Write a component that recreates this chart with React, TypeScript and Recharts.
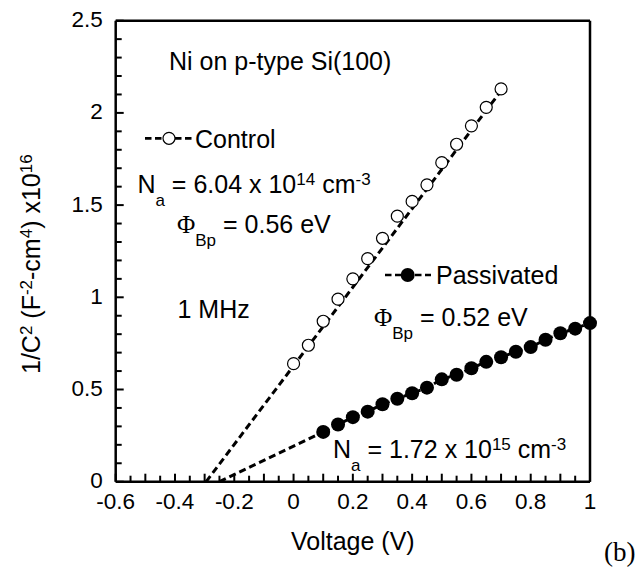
import { LineChart, Line, XAxis, YAxis, ReferenceLine } from "recharts";

// axis ticks (minor + major)
const xTicks = [
  -0.6, -0.55, -0.5, -0.45, -0.4, -0.35, -0.3, -0.25, -0.2, -0.15, -0.1, -0.05,
  0, 0.05, 0.1, 0.15, 0.2, 0.25, 0.3, 0.35, 0.4, 0.45, 0.5, 0.55, 0.6, 0.65,
  0.7, 0.75, 0.8, 0.85, 0.9, 0.95, 1,
];
const yTicks = [
  0, 0.1, 0.2, 0.3, 0.4, 0.5, 0.6, 0.7, 0.8, 0.9, 1, 1.1, 1.2, 1.3, 1.4, 1.5,
  1.6, 1.7, 1.8, 1.9, 2, 2.1, 2.2, 2.3, 2.4, 2.5,
];

// Control (open circles)
const controlVoltage = [0, 0.05, 0.1, 0.15, 0.2, 0.25, 0.3, 0.35, 0.4, 0.45, 0.5, 0.55, 0.6, 0.65, 0.7];
const controlInvC2 = [0.64, 0.74, 0.87, 0.99, 1.1, 1.21, 1.32, 1.44, 1.52, 1.61, 1.73, 1.83, 1.93, 2.03, 2.13];

// Passivated (filled circles)
const passivatedVoltage = [
  0.1, 0.15, 0.2, 0.25, 0.3, 0.35, 0.4, 0.45, 0.5, 0.55, 0.6, 0.65, 0.7, 0.75,
  0.8, 0.85, 0.9, 0.95, 1,
];
const passivatedInvC2 = [
  0.27, 0.31, 0.35, 0.38, 0.42, 0.45, 0.48, 0.51, 0.555, 0.58, 0.615, 0.65,
  0.675, 0.705, 0.73, 0.77, 0.805, 0.83, 0.86,
];

// extrapolation lines to the intercept
const controlFitVoltage = [-0.295, 0.7];
const controlFitInvC2 = [0, 2.12];
const passivatedFitVoltage = [-0.25, 0.1];
const passivatedFitInvC2 = [0, 0.27];

const zip = (xs: number[], ys: number[]) => xs.map((x, i) => ({ x, y: ys[i] }));

const control = zip(controlVoltage, controlInvC2);
const passivated = zip(passivatedVoltage, passivatedInvC2);
const controlFit = zip(controlFitVoltage, controlFitInvC2);
const passivatedFit = zip(passivatedFitVoltage, passivatedFitInvC2);

const W = 639;
const H = 577;
const PLOT_LEFT = 115.7;
const PLOT_TOP = 20.7;
const PLOT_RIGHT = 590;
const PLOT_BOTTOM = 481.7;
const Y_AXIS_W = 60;
const X_AXIS_H = 30;

const SANS = "'Liberation Sans', Arial, Helvetica, sans-serif";
const SERIF = "'Liberation Serif', 'Times New Roman', serif";
const FS = 25;
const SMALL = 17;
const TICK_FS = 22.5;

const near = (v: number, step: number) => Math.abs(v / step - Math.round(v / step)) < 1e-6;

const renderXTick = (props: any) => {
  const { x, payload } = props;
  const v = payload.value as number;
  const len = near(v, 0.1) ? 8 : 6;
  return (
    <g>
      <line x1={x} x2={x} y1={PLOT_BOTTOM} y2={PLOT_BOTTOM - len} stroke="#000" strokeWidth={2} />
      {near(v, 0.2) && (
        <text x={x} y={PLOT_BOTTOM + 27.5} textAnchor="middle" fontSize={TICK_FS} fontFamily={SANS} fill="#000">
          {String(v)}
        </text>
      )}
    </g>
  );
};

const renderYTick = (props: any) => {
  const { y, payload } = props;
  const v = payload.value as number;
  const major = near(v, 0.5);
  return (
    <g>
      <line x1={PLOT_LEFT} x2={PLOT_LEFT + (major ? 8 : 6)} y1={y} y2={y} stroke="#000" strokeWidth={2} />
      {major && (
        <text x={PLOT_LEFT - 13} y={y + 6.5} textAnchor="end" fontSize={TICK_FS} fontFamily={SANS} fill="#000">
          {String(v)}
        </text>
      )}
    </g>
  );
};

type Part = { t: string; s?: "sub" | "sup"; serif?: boolean };

function Rich({ x, y, parts, size = FS, family = SANS, transform }: { x: number; y: number; parts: Part[]; size?: number; family?: string; transform?: string }) {
  let cur = 0;
  return (
    <text x={x} y={y} fontSize={size} fontFamily={family} fill="#000" style={{ whiteSpace: "pre" }} transform={transform}>
      {parts.map((p, i) => {
        const target = p.s === "sup" ? -8 : p.s === "sub" ? 12.5 : 0;
        const dy = target - cur;
        cur = target;
        return (
          <tspan key={i} dy={dy} fontSize={p.s ? SMALL : size} fontFamily={p.serif ? SERIF : undefined}>
            {p.t}
          </tspan>
        );
      })}
    </text>
  );
}

function Overlay() {
  return (
    <svg width={W} height={H} style={{ position: "absolute", left: 0, top: 0, pointerEvents: "none" }}>
      <text x={169} y={70} fontSize={FS} fontFamily={SANS}>Ni on p-type Si(100)</text>

      {/* legend: Control */}
      <line x1={145} x2={193} y1={138.3} y2={138.3} stroke="#000" strokeWidth={2.7} strokeDasharray="6.5 3.5" />
      <circle cx={169} cy={138.3} r={6} fill="#fff" stroke="#000" strokeWidth={1.2} />
      <text x={195} y={147.5} fontSize={FS} fontFamily={SANS}>Control</text>

      <Rich x={137.4} y={193.3} parts={[{ t: "N" }, { t: "a", s: "sub" }, { t: " = 6.04 x 10" }, { t: "14", s: "sup" }, { t: " cm" }, { t: "-3", s: "sup" }]} />
      <Rich x={177} y={233.3} parts={[{ t: "Φ", serif: true }, { t: "Bp", s: "sub" }, { t: " = 0.56 eV" }]} />
      <text x={177.5} y={318} fontSize={FS} fontFamily={SANS}>1 MHz</text>

      {/* legend: Passivated */}
      <line x1={385} x2={431} y1={275} y2={275} stroke="#000" strokeWidth={2.7} strokeDasharray="6.5 3.5" />
      <circle cx={407.7} cy={275} r={7} fill="#000" />
      <text x={436} y={284} fontSize={FS} fontFamily={SANS}>Passivated</text>

      <Rich x={374} y={326} parts={[{ t: "Φ", serif: true }, { t: "Bp", s: "sub" }, { t: " = 0.52 eV" }]} />
      <Rich x={333} y={458.3} parts={[{ t: "N" }, { t: "a", s: "sub" }, { t: " = 1.72 x 10" }, { t: "15", s: "sup" }, { t: " cm" }, { t: "-3", s: "sup" }]} />

      <text x={(PLOT_LEFT + PLOT_RIGHT) / 2} y={550} textAnchor="middle" fontSize={FS} fontFamily={SANS}>Voltage (V)</text>
      <text x={604} y={560.5} fontSize={27} fontFamily={SERIF}>(b)</text>

      <Rich
        x={0}
        y={0}
        transform="translate(40 374) rotate(-90)"
        parts={[{ t: "1/C" }, { t: "2", s: "sup" }, { t: " (F" }, { t: "-2", s: "sup" }, { t: "-cm" }, { t: "4", s: "sup" }, { t: ") x10" }, { t: "16", s: "sup" }]}
      />
    </svg>
  );
}

export default function App() {
  return (
    <div style={{ position: "absolute", left: 0, top: 0, width: W, height: H, background: "#fff" }}>
      <LineChart
        width={W}
        height={H}
        margin={{
          top: PLOT_TOP,
          right: W - PLOT_RIGHT,
          bottom: H - PLOT_BOTTOM - X_AXIS_H,
          left: PLOT_LEFT - Y_AXIS_W,
        }}
      >
        <XAxis
          type="number"
          dataKey="x"
          domain={[-0.6, 1]}
          ticks={xTicks}
          interval={0}
          tick={renderXTick}
          tickLine={false}
          axisLine={{ stroke: "#000", strokeWidth: 2.5 }}
          height={X_AXIS_H}
        />
        <YAxis
          type="number"
          dataKey="y"
          domain={[0, 2.5]}
          ticks={yTicks}
          interval={0}
          tick={renderYTick}
          tickLine={false}
          axisLine={{ stroke: "#000", strokeWidth: 2.5 }}
          width={Y_AXIS_W}
        />
        <ReferenceLine y={2.5} stroke="#000" strokeWidth={2.5} ifOverflow="visible" />
        <ReferenceLine x={1} stroke="#000" strokeWidth={2.5} ifOverflow="visible" />

        <Line data={control} dataKey="y" stroke="none" dot={{ r: 6, fill: "#fff", stroke: "#000", strokeWidth: 1.2 }} activeDot={false} isAnimationActive={false} />
        <Line data={controlFit} dataKey="y" stroke="#000" strokeWidth={3} strokeDasharray="7 4" dot={false} activeDot={false} isAnimationActive={false} />

        <Line data={passivatedFit} dataKey="y" stroke="#000" strokeWidth={3} strokeDasharray="7 4" dot={false} activeDot={false} isAnimationActive={false} />
        <Line data={passivated} dataKey="y" stroke="#000" strokeWidth={3} strokeDasharray="7 4" dot={{ r: 7, fill: "#000", stroke: "#000", strokeWidth: 0 }} activeDot={false} isAnimationActive={false} />
      </LineChart>
      <Overlay />
    </div>
  );
}
